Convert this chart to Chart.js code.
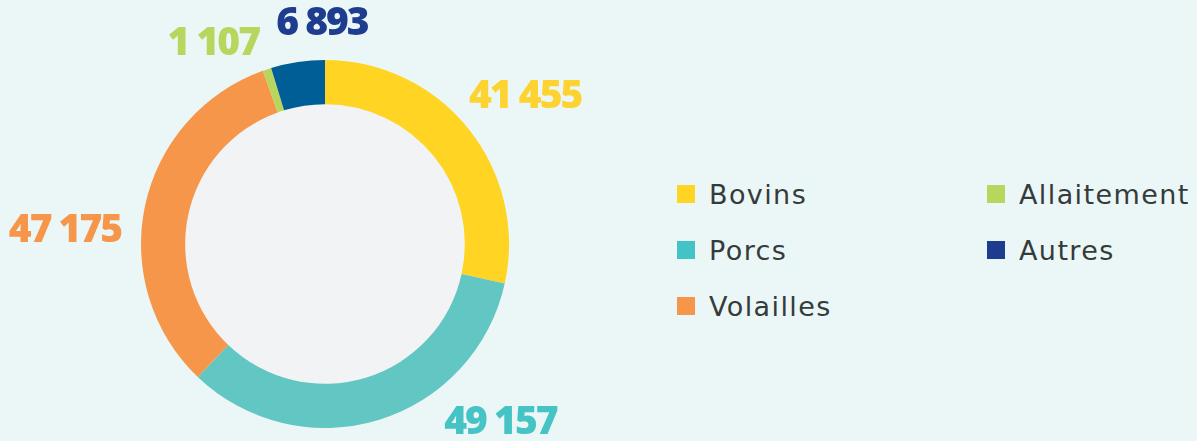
<!DOCTYPE html>
<html lang="fr">
<head>
<meta charset="utf-8">
<script src="https://cdn.jsdelivr.net/npm/chart.js@4.4.0/dist/chart.umd.min.js"></script>
<style>
    html, body { margin: 0; padding: 0; background: #ebf7f7; }
    body { width: 1197px; height: 441px; position: relative; overflow: hidden; font-family: "Open Sans", sans-serif; }
    #wrap { position: absolute; left: 0; top: 0; width: 650px; height: 441px; }
    #legende { position: absolute; left: 677px; top: 166px; display: grid; grid-template-columns: 310px 220px; grid-auto-rows: 56px; }
    .item { display: flex; align-items: center; font-family: "DejaVu Sans", sans-serif; font-size: 27px; letter-spacing: 1.4px; color: #353b3b; }
    .carre { width: 18px; height: 18px; margin-right: 14px; }
</style>
</head>
<body>
<div id="wrap"><canvas id="grafico"></canvas></div>
<div id="legende"></div>
<script>
const categories = ["Bovins", "Porcs", "Volailles", "Allaitement", "Autres"];
const valeurs = [41455, 49157, 47175, 1107, 6893];
const couleursParts = ["#ffd422", "#62c6c2", "#f6964a", "#b8d65e", "#005e97"];
const couleursLegende = ["#ffd422", "#43c3c5", "#f6964a", "#b8d65e", "#1e3c8d"];
const couleursEtiquettes = ["#fdd332", "#46c4c5", "#f6964a", "#b8d65e", "#1f3d8f"];

function formatNombre(v) {
    return v.toString().replace(/\B(?=(\d{3})+(?!\d))/g, " ");
}

// légende en HTML (ordre en colonnes : 3 puis 2)
const legende = document.getElementById("legende");
const ordre = [0, 3, 1, 4, 2];
ordre.forEach(function(i) {
    const div = document.createElement("div");
    div.className = "item";
    div.innerHTML = `<span class="carre" style="background:${couleursLegende[i]}"></span>${categories[i]}`;
    legende.appendChild(div);
});

// disque gris au centre
const fondCentre = {
    id: "fondCentre",
    beforeDatasetsDraw(chart) {
        const arc = chart.getDatasetMeta(0).data[0];
        if (!arc) return;
        const ctx = chart.ctx;
        ctx.save();
        ctx.fillStyle = "#f2f3f5";
        ctx.beginPath();
        ctx.arc(arc.x, arc.y, arc.innerRadius + 1, 0, Math.PI * 2);
        ctx.fill();
        ctx.restore();
    }
};

// étiquettes des valeurs autour de l'anneau
const etiquettes = {
    id: "etiquettes",
    afterDatasetsDraw(chart, args, opts) {
        const meta = chart.getDatasetMeta(0);
        const ctx = chart.ctx;
        ctx.save();
        ctx.font = "800 39px 'Open Sans'";
        ctx.textAlign = "center";
        ctx.textBaseline = "middle";
        ctx.letterSpacing = "-2px";
        meta.data.forEach(function(arc, i) {
            const p = opts.positions[i];
            const a = (p.angle - 90) * Math.PI / 180;
            const r = arc.outerRadius * p.dist;
            ctx.fillStyle = couleursEtiquettes[i];
            ctx.fillText(formatNombre(valeurs[i]), arc.x + Math.cos(a) * r, arc.y + Math.sin(a) * r);
        });
        ctx.restore();
    }
};

const ctx = document.getElementById("grafico").getContext("2d");
new Chart(ctx, {
    type: "doughnut",
    data: {
        labels: categories,
        datasets: [{
            data: valeurs,
            backgroundColor: couleursParts,
            borderWidth: 0
        }]
    },
    options: {
        responsive: true,
        maintainAspectRatio: false,
        animation: false,
        cutout: "76%",
        layout: { padding: { top: 60, bottom: 13, left: 0, right: 0 } },
        plugins: {
            legend: { display: false },
            tooltip: { enabled: false },
            etiquettes: {
                positions: [
                    { angle: 53.7, dist: 1.35 },
                    { angle: 135.5, dist: 1.36 },
                    { angle: 272.9, dist: 1.415 },
                    { angle: 330.8, dist: 1.245 },
                    { angle: 359.2, dist: 1.195 }
                ]
            }
        }
    },
    plugins: [fondCentre, etiquettes]
});
</script>
</body>
</html>
